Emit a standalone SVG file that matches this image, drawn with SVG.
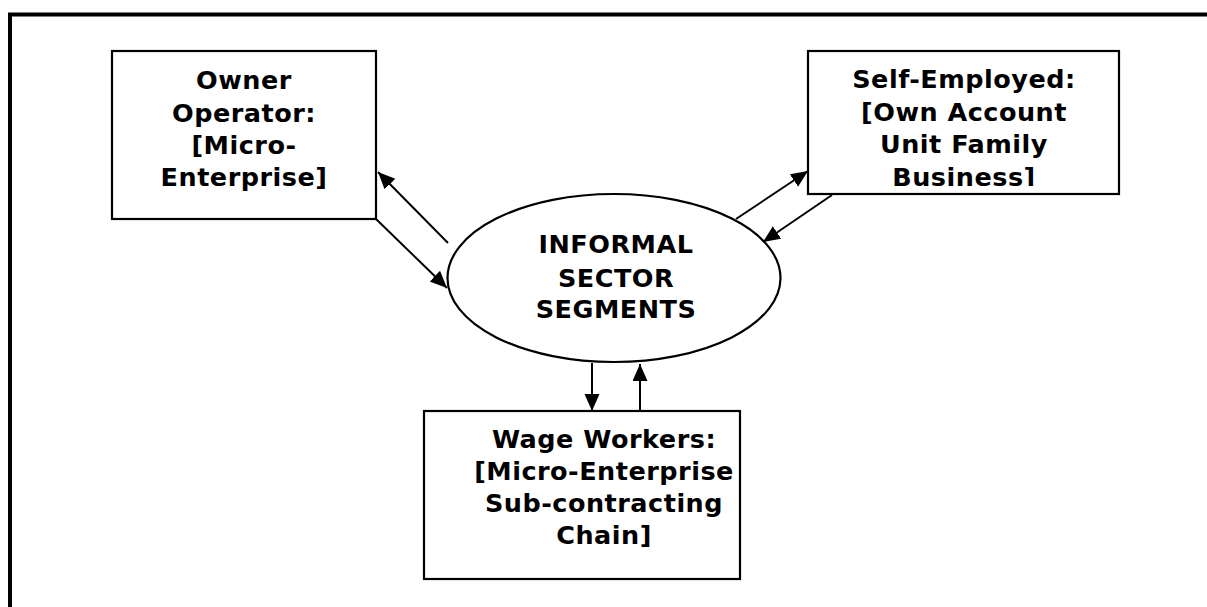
<svg xmlns="http://www.w3.org/2000/svg" width="1207" height="607" viewBox="0 0 1207 607">
<style>
.box{fill:#fff;stroke:#000;stroke-width:2.2}
.t{font-family:"DejaVu Sans",Verdana,sans-serif;font-weight:bold;font-size:25.5px;letter-spacing:0.5px;fill:#000;text-anchor:middle}
.c{stroke:#000;stroke-width:2;fill:none;marker-end:url(#ah)}
</style>
<defs>
<marker id="ah" markerUnits="userSpaceOnUse" markerWidth="18" markerHeight="16" refX="17" refY="7.5" orient="auto">
<path d="M0,0 L17,7.5 L0,15 Z" fill="#000"/>
</marker>
<clipPath id="clipSE"><rect x="808" y="51" width="311" height="135"/></clipPath>
</defs>
<rect width="1207" height="607" fill="#fff"/>
<path d="M10,607 L10,14.5 L1207,14.5" fill="none" stroke="#000" stroke-width="4"/>
<g id="owner">
<rect class="box" x="112" y="51" width="264" height="168"/>
<text class="t" x="244" y="89">Owner</text>
<text class="t" x="244" y="122">Operator:</text>
<text class="t" x="244" y="154">[Micro-</text>
<text class="t" x="244" y="186">Enterprise]</text>
</g>
<g id="self">
<rect class="box" x="808" y="51" width="311" height="143"/>
<g clip-path="url(#clipSE)">
<text class="t" x="964" y="88">Self-Employed:</text>
<text class="t" x="964" y="121">[Own Account</text>
<text class="t" x="964" y="153">Unit Family</text>
<text class="t" x="964" y="186">Business]</text>
</g>
</g>
<g id="center">
<ellipse class="box" cx="614" cy="278" rx="166.5" ry="84"/>
<text class="t" x="616" y="253">INFORMAL</text>
<text class="t" x="616" y="287">SECTOR</text>
<text class="t" x="616" y="318">SEGMENTS</text>
</g>
<g id="wage">
<rect class="box" x="424" y="411" width="316" height="168"/>
<text class="t" x="604" y="448">Wage Workers:</text>
<text class="t" x="604" y="480">[Micro-Enterprise</text>
<text class="t" x="604" y="512">Sub-contracting</text>
<text class="t" x="604" y="544">Chain]</text>
</g>
<g id="connectors">
<line class="c" x1="448" y1="243" x2="378" y2="172"/>
<line class="c" x1="376" y1="219" x2="447" y2="288"/>
<line class="c" x1="736" y1="219" x2="808" y2="171"/>
<line class="c" x1="832" y1="195" x2="763" y2="242"/>
<line class="c" x1="592" y1="363" x2="592" y2="411"/>
<line class="c" x1="640" y1="411" x2="640" y2="364"/>
</g>
</svg>
